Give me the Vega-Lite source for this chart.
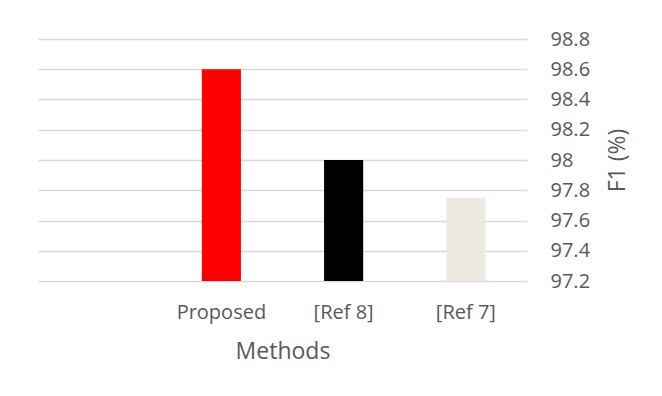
{
  "$schema": "https://vega.github.io/schema/vega-lite/v6.json",
  "width": 489,
  "height": 242,
  "autosize": {"type": "none"},
  "padding": {"left": 38, "top": 39, "right": 135, "bottom": 115},
  "background": "white",
  "config": {
    "font": "Open Sans",
    "view": {"stroke": null},
    "axis": {"labelColor": "#595959", "titleColor": "#595959", "labelFont": "Open Sans", "titleFont": "Open Sans", "titleFontWeight": "normal"}
  },
  "data": {
    "values": [
      {"method": "Proposed", "f1": 98.6},
      {"method": "[Ref 8]", "f1": 98.0},
      {"method": "[Ref 7]", "f1": 97.75}
    ]
  },
  "mark": {"type": "bar"},
  "encoding": {
    "x": {
      "field": "method",
      "type": "nominal",
      "sort": null,
      "scale": {"domain": [" ", "Proposed", "[Ref 8]", "[Ref 7]"], "paddingInner": 0.68, "paddingOuter": 0.34},
      "axis": {
        "title": "Methods",
        "labelAngle": 0,
        "labelFontSize": 20,
        "titleFontSize": 23,
        "domain": false,
        "ticks": false,
        "grid": false,
        "labelPadding": 21,
        "titlePadding": 18
      }
    },
    "y": {
      "field": "f1",
      "type": "quantitative",
      "scale": {"domain": [97.2, 98.8], "zero": false},
      "axis": {
        "orient": "right",
        "title": "F1 (%)",
        "titleAngle": 270,
        "titleBaseline": "top",
        "values": [97.2, 97.4, 97.6, 97.8, 98.0, 98.2, 98.4, 98.6, 98.8],
        "format": "~g",
        "labelFontSize": 20,
        "titleFontSize": 23,
        "domain": false,
        "ticks": false,
        "grid": true,
        "gridColor": "#d9d9d9",
        "gridWidth": 1.3,
        "labelPadding": 23,
        "titlePadding": 17
      }
    },
    "y2": {"datum": 97.2},
    "color": {
      "field": "method",
      "type": "nominal",
      "scale": {"domain": ["Proposed", "[Ref 8]", "[Ref 7]"], "range": ["#ff0000", "#000000", "#eeeae0"]},
      "legend": null
    }
  }
}
